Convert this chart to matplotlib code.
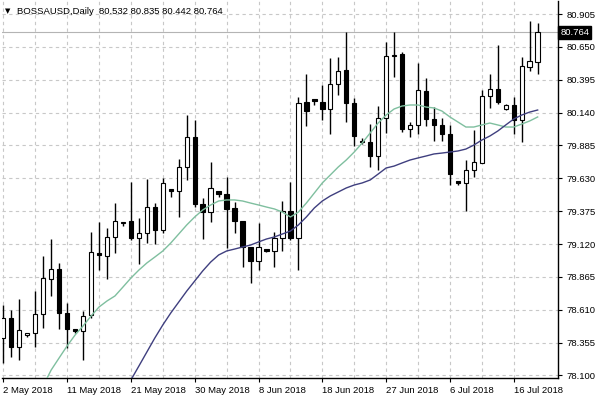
import matplotlib
matplotlib.use('Agg')
import matplotlib.pyplot as plt
import numpy as np
import pandas as pd

# daily bars, Sundays included, Saturdays skipped (2 May - 19 Jul 2018)
days = pd.date_range('2018-05-02', '2018-07-19')
dates = [d for d in days if d.weekday() != 5]

opens = [78.388, 78.544, 78.319, 78.416, 78.427, 78.575, 78.851, 78.924, 78.582, 78.458,
         78.443, 78.569, 79.053, 79.027, 79.172, 79.285, 79.301, 79.164, 79.208, 79.410,
         79.229, 79.545, 79.534, 79.720, 79.953, 79.431, 79.368, 79.534, 79.508, 79.397,
         79.301, 79.099, 78.988, 79.079, 79.068, 79.164, 79.379, 79.164, 80.224, 80.248,
         80.224, 80.165, 80.362, 80.470, 80.217, 79.922, 79.912, 79.803, 80.096, 80.579,
         80.592, 80.010, 80.044, 80.307, 80.088, 80.044, 79.974, 79.609, 79.591, 79.694,
         79.751, 80.269, 80.321, 80.165, 80.199, 80.082, 80.496, 80.532]
highs = [78.647, 78.608, 78.691, 78.432, 78.755, 79.029, 79.157, 78.975, 78.665, 78.463,
         78.600, 79.216, 79.291, 79.247, 79.441, 79.293, 79.604, 79.320, 79.625, 79.436,
         79.630, 79.547, 79.777, 80.121, 80.082, 79.475, 79.759, 79.534, 79.642, 79.448,
         79.301, 79.099, 79.285, 79.085, 79.216, 79.456, 79.604, 80.259, 80.437, 80.248,
         80.354, 80.566, 80.574, 80.768, 80.251, 79.940, 80.051, 80.191, 80.690, 80.768,
         80.612, 80.069, 80.522, 80.406, 80.181, 80.096, 80.044, 79.609, 79.772, 80.005,
         80.315, 80.439, 80.664, 80.207, 80.263, 80.574, 80.851, 80.835]
lows = [78.197, 78.246, 78.220, 78.396, 78.319, 78.466, 78.719, 78.458, 78.311, 78.427,
        78.220, 78.546, 78.918, 78.846, 79.048, 79.260, 79.151, 78.965, 79.126, 79.120,
        79.208, 79.487, 79.332, 79.617, 79.407, 79.157, 79.293, 79.487, 79.087, 79.203,
        78.944, 78.815, 78.918, 79.062, 78.944, 79.068, 79.151, 78.918, 80.036, 80.199,
        80.082, 79.974, 80.276, 80.069, 79.881, 79.896, 79.715, 79.694, 79.979, 80.416,
        79.992, 79.948, 79.974, 80.036, 79.922, 79.922, 79.578, 79.578, 79.379, 79.640,
        79.746, 80.173, 80.207, 80.160, 79.974, 79.914, 80.465, 80.442]
closes = [78.544, 78.319, 78.453, 78.432, 78.575, 78.854, 78.924, 78.582, 78.458, 78.443,
          78.565, 79.056, 79.033, 79.177, 79.301, 79.293, 79.164, 79.208, 79.410, 79.229,
          79.596, 79.534, 79.720, 79.953, 79.431, 79.371, 79.555, 79.508, 79.389, 79.301,
          79.099, 78.988, 79.099, 79.068, 79.164, 79.379, 79.164, 80.217, 80.155, 80.232,
          80.165, 80.362, 80.463, 80.212, 79.961, 79.912, 79.803, 80.100, 80.579, 80.587,
          80.010, 80.044, 80.315, 80.088, 80.041, 79.971, 79.663, 79.591, 79.694, 79.759,
          80.269, 80.321, 80.220, 80.199, 80.082, 80.501, 80.540, 80.764]

# moving averages (NaN = below the visible range)
ma_fast = [np.nan] * 5 + [
    78.020, 78.142, 78.236, 78.329, 78.414, 78.484, 78.561, 78.631, 78.678, 78.717,
    78.786, 78.856, 78.918, 78.973, 79.019, 79.066, 79.128, 79.198, 79.268, 79.330,
    79.384, 79.423, 79.454, 79.462, 79.462, 79.454, 79.438, 79.423, 79.407, 79.392,
    79.368, 79.330, 79.368, 79.438, 79.516, 79.594, 79.656, 79.718, 79.772, 79.834,
    79.904, 79.982, 80.059, 80.121, 80.168, 80.191, 80.199, 80.199, 80.183, 80.176,
    80.152, 80.106, 80.067, 80.028, 80.028, 80.044, 80.059, 80.044, 80.028, 80.028,
    80.051, 80.075, 80.106]
ma_slow = [np.nan] * 16 + [
    78.065, 78.173, 78.282, 78.391, 78.492, 78.585, 78.670, 78.755, 78.833, 78.911,
    78.980, 79.035, 79.066, 79.081, 79.097, 79.112, 79.136, 79.159, 79.175, 79.198,
    79.221, 79.268, 79.330, 79.400, 79.454, 79.493, 79.524, 79.555, 79.578, 79.594,
    79.617, 79.663, 79.710, 79.725, 79.749, 79.772, 79.788, 79.803, 79.819, 79.826,
    79.834, 79.842, 79.857, 79.888, 79.927, 79.958, 79.997, 80.044, 80.090, 80.121,
    80.144, 80.160]

price_ticks = [80.905, 80.650, 80.395, 80.140, 79.885, 79.630, 79.375,
               79.120, 78.865, 78.610, 78.355, 78.100]
last_price = 80.764
title = 'BOSSAUSD,Daily  80.532 80.835 80.442 80.764'

plt.rcParams['font.family'] = ['Liberation Sans', 'DejaVu Sans']
fig = plt.figure(figsize=(6, 3.99), dpi=100)
ax = fig.add_axes([2 / 600, 21 / 399, 556 / 600, 377 / 399])

x = np.arange(len(dates))
o = np.array(opens)
c = np.array(closes)
up = c >= o

# grid
for p in price_ticks:
    ax.axhline(p, color='#c8c8c8', lw=0.8, ls=(0, (3, 3)), zorder=0)
for i in range(0, len(dates), 4):
    ax.axvline(i, color='#c8c8c8', lw=0.8, ls=(0, (3, 3)), zorder=0)

ax.axhline(last_price, color='#b4b4b4', lw=0.8, zorder=1)

# candles
ax.vlines(x, lows, highs, color='black', lw=1, zorder=2)
body_h = np.maximum(np.abs(c - o), 0.0005)
ax.bar(x, body_h, bottom=np.minimum(o, c), width=0.55,
       color=np.where(up, 'white', 'black'), edgecolor='black', lw=0.8, zorder=3)

ax.plot(x, ma_fast, color='#7fbf9f', lw=1, zorder=4)
ax.plot(x, ma_slow, color='#3f3f7f', lw=1, zorder=4)

ax.set_xlim(-0.163, 69.55)
ax.set_ylim(78.0803, 81.006)

for s in ['left', 'top']:
    ax.spines[s].set_visible(False)
ax.spines['right'].set_linewidth(1)
ax.spines['bottom'].set_linewidth(1)

ax.yaxis.tick_right()
ax.set_yticks(price_ticks)
ax.set_yticklabels([f'{p:.3f}' for p in price_ticks])
ax.tick_params(axis='y', length=3, pad=3, labelsize=6.8)

pos = list(range(0, len(dates), 8))
ax.set_xticks(pos)
ax.set_xticklabels([f'{dates[i].day} {dates[i].strftime("%b %Y")}' for i in pos])
ax.tick_params(axis='x', length=3, pad=3, labelsize=6.8)
for lab in ax.get_xticklabels():
    lab.set_ha('left')

ax.text(1.004, last_price, f'{last_price:.3f}', transform=ax.get_yaxis_transform(),
        va='center', ha='left', color='white', fontsize=6.8,
        bbox=dict(boxstyle='square,pad=0.2', fc='black', ec='black'))

fig.text(5 / 600, 1 - 11 / 399, '\u25bc', fontsize=5, va='center', ha='left',
         family='DejaVu Sans')
fig.text(17 / 600, 1 - 11 / 399, title, fontsize=6.8, va='center', ha='left')

fig.savefig('out.png', dpi=100)
